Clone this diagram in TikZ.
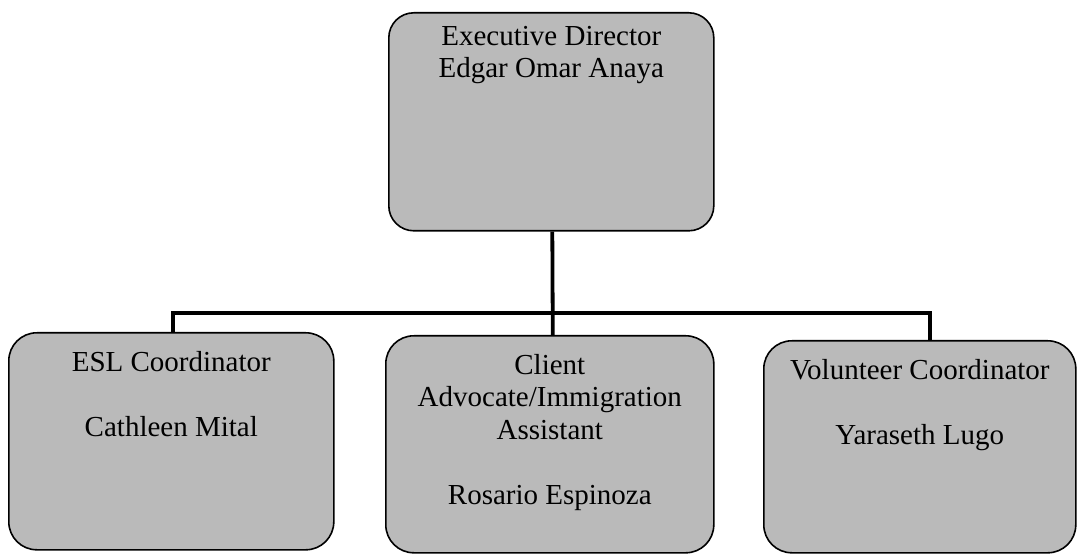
\documentclass[tikz,border=0pt]{standalone}
\usepackage{fontspec}
\setmainfont{Liberation Serif}
\begin{document}
\begin{tikzpicture}[x=1pt,y=-1pt,
  orgbox/.style={draw=black, line width=1.6pt, fill=black!27, rounded corners=28pt, inner sep=0pt, anchor=north west},
  orgtext/.style={anchor=north, align=center, font=\fontsize{29}{32.5}\selectfont, inner sep=0pt},
  conn/.style={line width=3.8pt, line cap=rect}]
\useasboundingbox (0,0) rectangle (1080,556);
\node[orgbox, minimum width=325pt, minimum height=218pt, rounded corners=25pt] (top) at (388,12) {};
\node[orgbox, minimum width=325pt, minimum height=217pt] (left) at (8,332) {};
\node[orgbox, minimum width=328pt, minimum height=217pt] (mid) at (385,335) {};
\node[orgbox, minimum width=312pt, minimum height=212pt] (right) at (763,340) {};
\node[orgtext] (ttop) at ([yshift=-14pt]top.north) {Executive Director\\Edgar Omar Anaya};
\node[orgtext] (tleft) at ([yshift=-19pt]left.north) {ESL Coordinator\\[32.5pt]Cathleen Mital};
\node[orgtext] (tmid) at ([yshift=-19pt]mid.north) {Client\\Advocate/Immigration\\Assistant\\[32.5pt]Rosario Espinoza};
\node[orgtext] (tright) at ([yshift=-19pt]right.north) {Volunteer Coordinator\\[32.5pt]Yaraseth Lugo};
\coordinate (bl) at (173,313);
\coordinate (br) at (930,313);
\draw[conn] (bl) -- (br);
\draw[conn,line cap=butt] (bl) -- (bl |- left.north);
\draw[conn,line cap=butt] (br) -- (br |- right.north);
\draw[conn,line cap=butt] ([xshift=1pt]top.south) -- ([xshift=3pt]mid.north);
\end{tikzpicture}
\end{document}
